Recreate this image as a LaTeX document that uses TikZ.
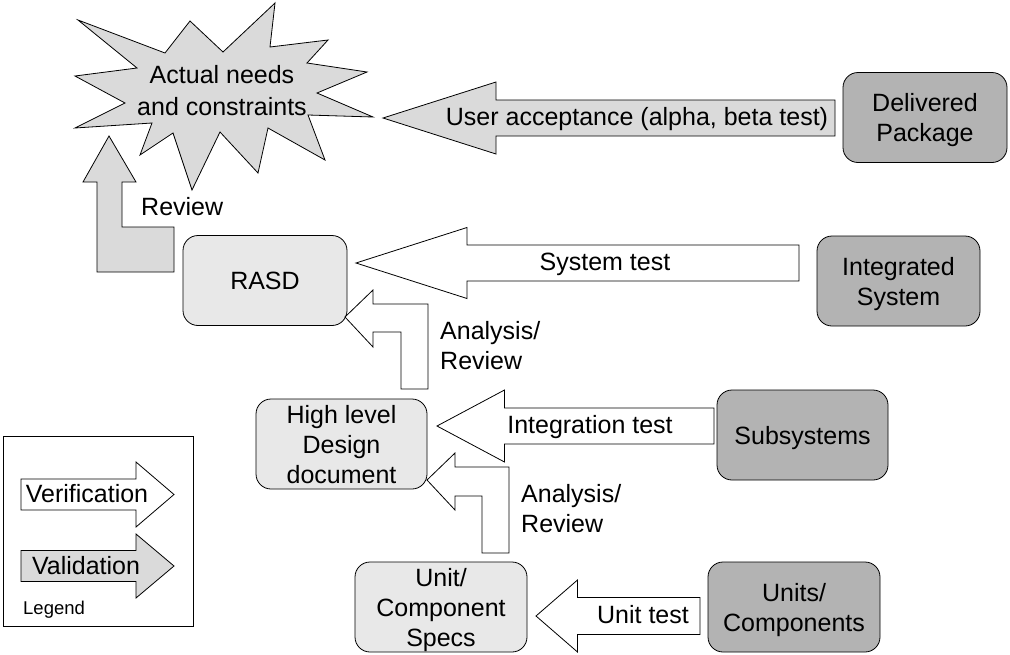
\documentclass[tikz,border=0pt]{standalone}
\usepackage{fontspec}
\setmainfont{Liberation Sans}
\usetikzlibrary{positioning}

\definecolor{boxlight}{RGB}{232,232,232}
\definecolor{boxdark}{RGB}{179,179,179}
\definecolor{valfill}{RGB}{218,218,218}

% Blockpfeil: Stil, Spitze x, Kopf x, Ende x, y, halbe Kopfbreite, halbe Schaftbreite
\newcommand{\blockpfeil}[7]{%
  \draw[#1] (#2,#5) -- (#3,#5-#6) -- (#3,#5-#7) -- (#4,#5-#7)
    -- (#4,#5+#7) -- (#3,#5+#7) -- (#3,#5+#6) -- cycle;}

\tikzset{
  specbox/.style={draw, line width=0.8pt, rounded corners=15pt, fill=boxlight,
    minimum height=90pt, align=center, inner sep=2pt, text depth=0pt},
  implbox/.style={specbox, fill=boxdark},
  verif/.style={draw, fill=white, line width=0.8pt},
  valid/.style={draw, fill=valfill, line width=0.8pt},
  lbl/.style={inner sep=0pt, align=center},
}

\begin{document}
\begin{tikzpicture}[x=1pt, y=-1pt, font=\fontsize{25}{30}\selectfont]
  \useasboundingbox (0,0) rectangle (1010,654);

  % Anforderungen (Stern)
  \draw[valid] (78,20) -- (165,53) -- (190,21) -- (223,52) -- (275,3) -- (270,47)
    -- (328,40) -- (307,63) -- (367,72) -- (317,93) -- (373,117) -- (308,115)
    -- (325,160) -- (268,128) -- (258,173) -- (220,132) -- (192,190) -- (173,133)
    -- (140,155) -- (152,123) -- (75,128) -- (125,103) -- (75,76) -- (137,68) -- cycle;
  \node[lbl, font=\fontsize{25}{32}\selectfont] (needs) at (222,91) {Actual needs\\and constraints};

  % Linke Seite: Spezifikationen
  \node[specbox, minimum width=164pt] (rasd) at (265,280.5) {RASD};
  \node[specbox, minimum width=171pt] (hld) at (341.5,444) {High level\\Design\\document};
  \node[specbox, minimum width=172pt] (specs) at (441,607) {Unit/\\Component\\Specs};

  % Rechte Seite: Implementierung
  \node[implbox, minimum width=164pt] (pkg) at (925,117.5) {Delivered\\Package};
  \node[implbox, minimum width=163pt] (intsys) at (898.5,281) {Integrated\\System};
  \node[implbox, minimum width=171pt] (subsys) at (802.5,435) {Subsystems};
  \node[implbox, minimum width=172pt] (units) at (794,607) {Units/\\Components};

  % Tests (waagerechte Pfeile)
  \blockpfeil{valid}{383}{496}{835}{118}{36}{18}
  \node[lbl] (uat) at (637,119) {User acceptance (alpha, beta test)};
  \blockpfeil{verif}{356}{467}{799}{263}{35.5}{18}
  \node[lbl] (systest) at (605,264) {System test};
  \blockpfeil{verif}{437}{504.5}{714}{426}{36}{18}
  \node[lbl] (inttest) at (590,427) {Integration test};
  \blockpfeil{verif}{536}{577.5}{700}{616}{36}{18.5}
  \node[lbl] (unittest) at (643,615) {Unit test};

  % Reviews (geknickte Pfeile)
  \draw[valid] (109,136) -- (136,182) -- (122,182) -- (122,227) -- (174,227)
    -- (174,272) -- (97,272) -- (97,182) -- (83,182) -- cycle;
  \node[lbl, anchor=west] (review) at (141,207) {Review};
  \draw[verif] (345,317) -- (373,290) -- (373,304) -- (428,304) -- (428,389)
    -- (401,389) -- (401,332) -- (373,332) -- (373,347) -- cycle;
  \node[lbl, anchor=west, align=left] (ana1) at (440,346) {Analysis/\\Review};
  \draw[verif] (427,480) -- (455,453) -- (455,467) -- (509,467) -- (509,553)
    -- (482,553) -- (482,496) -- (455,496) -- (455,510) -- cycle;
  \node[lbl, anchor=west, align=left] (ana2) at (521,509) {Analysis/\\Review};

  % Legende
  \draw[line width=0.8pt] (3,436) rectangle (193,626);
  \blockpfeil{verif}{174}{136}{21}{494.5}{32.5}{15.5}
  \node[lbl] (verlbl) at (87,494) {Verification};
  \blockpfeil{valid}{174}{136}{21}{566}{32}{15.5}
  \node[lbl] (vallbl) at (86,566) {Validation};
  \node[lbl, anchor=west, font=\fontsize{18.5}{22}\selectfont] (legend) at (23,610) {Legend};
\end{tikzpicture}
\end{document}
